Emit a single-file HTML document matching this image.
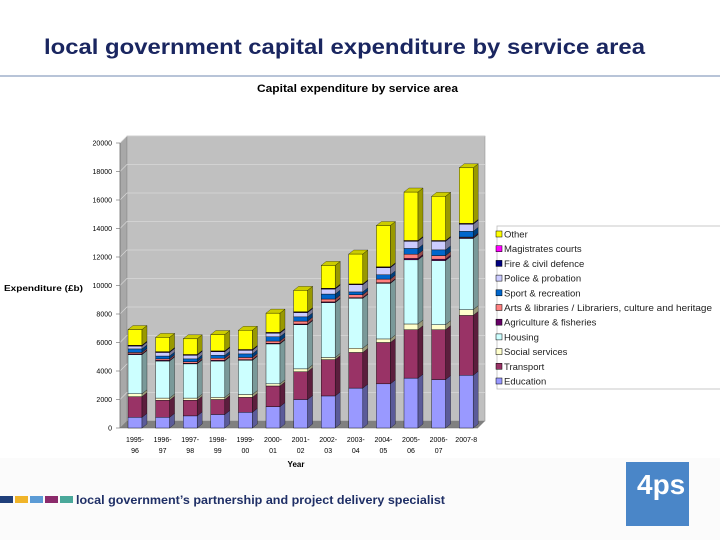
<!DOCTYPE html>
<html><head><meta charset="utf-8"><style>
body{margin:0;width:720px;height:540px;background:#fff;font-family:"Liberation Sans",Arial,sans-serif;overflow:hidden;position:relative}
#hr{position:absolute;left:0;top:75px;width:720px;height:2px;background:#b8c4d8}
#foot{position:absolute;left:0;top:458px;width:720px;height:82px;background:#fbfbfb}
</style></head><body>
<div id="hr"></div>
<div id="foot"></div>
<svg id="c" width="720" height="540" style="position:absolute;left:0;top:0"></svg>
<script>
const categories=["1995-96","1996-97","1997-98","1998-99","1999-00","2000-01","2001-02","2002-03","2003-04","2004-05","2005-06","2006-07","2007-8"];
const seriesNames=["Education","Transport","Social services","Housing","Agriculture & fisheries","Arts & libraries / Librariers, culture and heritage","Sport & recreation","Police & probation","Fire & civil defence","Magistrates courts","Other"];
const education=[750,750,850,950,1100,1500,2000,2250,2800,3100,3500,3400,3700];
const transport=[1450,1200,1100,1050,1050,1450,1950,2550,2500,2900,3400,3500,4200];
const social=[200,150,150,150,200,150,200,150,300,250,400,350,400];
const housing=[2750,2600,2400,2550,2400,2800,3100,3850,3500,3900,4500,4500,5000];
const agriculture=[50,50,50,50,50,50,50,50,50,50,100,100,50];
const arts=[100,100,100,150,150,150,200,200,200,250,300,250,50];
const sport=[250,200,200,200,250,300,300,350,200,300,400,400,400];
const police=[200,250,250,250,250,250,300,350,500,500,500,600,500];
const fire=[50,50,50,50,50,50,50,50,50,50,50,50,50];
const magistrates=[10,10,10,10,10,10,10,10,10,10,10,10,10];
const other=[1100,1000,1100,1150,1350,1350,1500,1600,2100,2900,3400,3100,3900];
const yTicks=[0,2000,4000,6000,8000,10000,12000,14000,16000,18000,20000];
const series=[education,transport,social,housing,agriculture,arts,sport,police,fire,magistrates,other];
const colors=["#9999ff","#993366","#ffffcc","#ccffff","#660066","#ff8080","#0066cc","#ccccff","#000080","#ff00ff","#ffff00"];
const svg=document.getElementById('c');const NS="http://www.w3.org/2000/svg";
function mk(tag,a,par){const e=document.createElementNS(NS,tag);for(const k in a)e.setAttribute(k,a[k]);(par||svg).appendChild(e);return e;}
const y0=428,yTop=143,x0=120,step=27.6,bw=14,dx=5,dy=4,wx=7,wy=7;
const y=v=>y0-(v/20000)*(y0-yTop);
const x=i=>128+i*step;
const FONT='"Liberation Sans",Arial,sans-serif';
let e;
e=mk('text',{x:44,y:54,'font-size':21,'font-weight':'bold',fill:'#1a2660','font-family':FONT,textLength:601,lengthAdjust:'spacingAndGlyphs'});e.textContent="local government capital expenditure by service area";


e=mk('text',{x:257,y:92,'font-size':11,'font-weight':'bold','font-family':FONT,textLength:201,lengthAdjust:'spacingAndGlyphs'});e.textContent="Capital expenditure by service area";


e=mk('polygon',{points:`${x0},${y0} ${x0+wx},${y0-wy} ${x0+wx},${yTop-wy} ${x0},${yTop}`,fill:'#a8a8a8',stroke:'#888','stroke-width':0.5});


e=mk('rect',{x:x0+wx,y:yTop-wy,width:485-x0-wx,height:y0-yTop,fill:'#c0c0c0',stroke:'#888','stroke-width':0.5});


e=mk('polygon',{points:`${x0},${y0} ${x0+wx},${y0-wy} 485,${y0-wy} 478,${y0}`,fill:'#808080'});


yTicks.forEach(t=>{
 if(t>0){const l=mk('polyline',{points:`${x0},${y(t)} ${x0+wx},${y(t)-wy} 485,${y(t)-wy}`,fill:'none',stroke:'#d8d8d8','stroke-width':0.7});
 
 }
 const tl=mk('line',{x1:x0-4,y1:y(t),x2:x0,y2:y(t),stroke:'#666','stroke-width':0.6});
 
 
 const tx=mk('text',{x:x0-8,y:y(t)+2.5,'font-size':7,'text-anchor':'end','font-family':FONT});tx.textContent=t;
 
 
});
e=mk('line',{x1:x0,y1:yTop,x2:x0,y2:y0,stroke:'#666','stroke-width':0.6});


e=mk('line',{x1:x0,y1:y0,x2:478,y2:y0,stroke:'#666','stroke-width':0.6});


function shade(c,f){const n=parseInt(c.slice(1),16);let r=(n>>16)&255,g=(n>>8)&255,b=n&255;return `rgb(${r*f|0},${g*f|0},${b*f|0})`;}
categories.forEach((cat,i)=>{
 const g=mk('g',{});
 
 
 let acc=0;const xl=x(i);
 series.forEach((s,k)=>{
  const v=s[i];const yb=y(acc),yt=y(acc+v);acc+=v;
  const r=mk('rect',{x:xl,y:yt,width:bw,height:Math.max(yb-yt,0.5),fill:colors[k],stroke:'#000','stroke-width':0.4},g);
  
  
  const sd=mk('polygon',{points:`${xl+bw},${yb} ${xl+bw+dx},${yb-dy} ${xl+bw+dx},${yt-dy} ${xl+bw},${yt}`,fill:shade(colors[k],0.6),stroke:'#000','stroke-width':0.3},g);
  
  
 });
 const yt=y(acc);
 const tp=mk('polygon',{points:`${xl},${yt} ${xl+dx},${yt-dy} ${xl+bw+dx},${yt-dy} ${xl+bw},${yt}`,fill:shade(colors[10],0.8),stroke:'#000','stroke-width':0.3},g);
 
 
 const parts=cat.split('-');
 const t1=mk('text',{x:xl+bw/2,y:442,'font-size':7,'text-anchor':'middle','font-family':FONT});t1.textContent=parts[0]+(parts[1].length>1?'-':'-8');
 
 
 if(parts[1].length>1){const t2=mk('text',{x:xl+bw/2,y:453,'font-size':7,'text-anchor':'middle','font-family':FONT});t2.textContent=parts[1];
 
 }
});
e=mk('text',{x:296,y:467,'font-size':8,'font-weight':'bold','text-anchor':'middle','font-family':FONT});e.textContent="Year";


e=mk('text',{x:4,y:291,'font-size':8.5,'font-weight':'bold','font-family':FONT,textLength:79,lengthAdjust:'spacingAndGlyphs'});e.textContent="Expenditure (£b)";


const lg=mk('g',{});


mk('rect',{x:497,y:226,width:230,height:163,fill:'#fff',stroke:'#bbb','stroke-width':0.8},lg);
for(let k=10;k>=0;k--){
 const row=10-k;const ly=235+row*14.7;
 const it=mk('g',{},lg);
 
 
 mk('rect',{x:496,y:ly-4,width:6,height:6,fill:colors[k],stroke:'#000','stroke-width':0.5},it);
 const tx=mk('text',{x:504,y:ly+2.5,'font-size':9.5,fill:'#222','font-family':FONT},it);tx.textContent=seriesNames[k];
 if(k===5){tx.setAttribute('textLength',208);tx.setAttribute('lengthAdjust','spacingAndGlyphs');}
}
const stripC=["#1f3f7a","#f0b429","#5b9bd5","#8b2a6b","#4aa89a"];
stripC.forEach((c,i)=>{const r=mk('rect',{x:i*15,y:496,width:13,height:7,fill:c});
 
 });
e=mk('text',{x:76,y:504,'font-size':12,'font-weight':'bold',fill:'#1f2f66','font-family':FONT,textLength:369,lengthAdjust:'spacingAndGlyphs'});e.textContent="local government’s partnership and project delivery specialist";


e=mk('rect',{x:626,y:462,width:63,height:64,fill:'#4a86c8'});


e=mk('text',{x:637,y:494,'font-size':28,'font-weight':'bold',fill:'#fff','font-family':FONT});e.textContent="4ps";


</script>
</body></html>
